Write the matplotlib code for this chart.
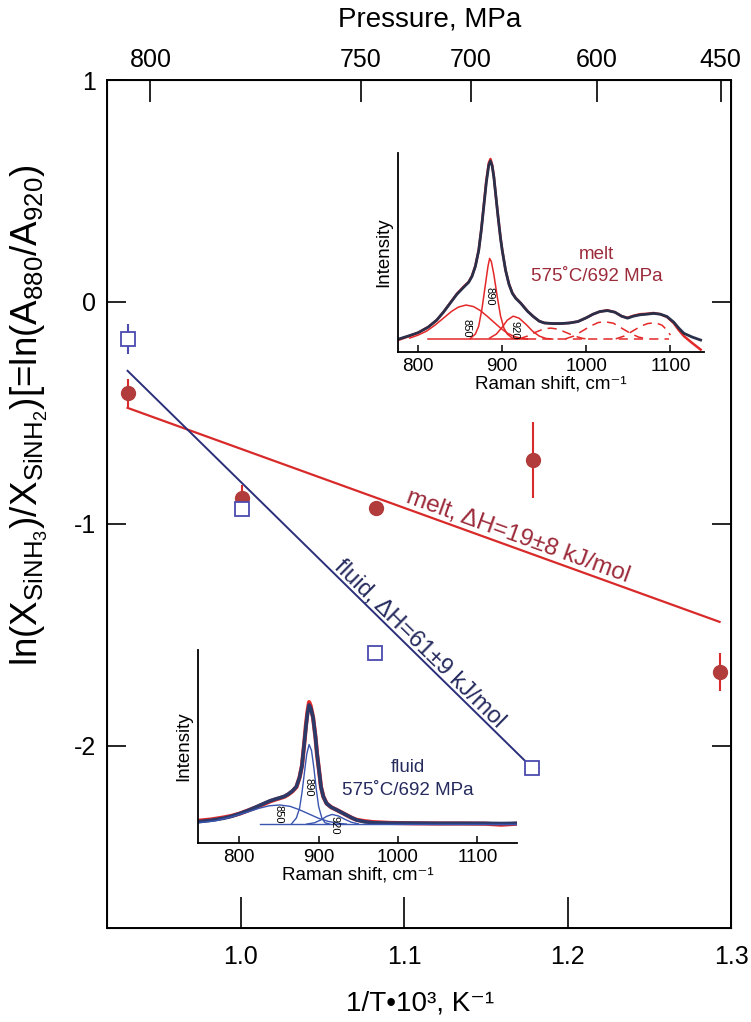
import numpy as np
import matplotlib.pyplot as plt

plt.rcParams['font.family'] = ['Liberation Sans', 'DejaVu Sans']
plt.rcParams['mathtext.fontset'] = 'custom'
plt.rcParams['mathtext.rm'] = 'Liberation Sans'
plt.rcParams['mathtext.it'] = 'Liberation Sans:italic'
plt.rcParams['mathtext.default'] = 'regular'

# main panel: ln ratio vs 1/T
melt_x = [0.9306, 1.0007, 1.0825, 1.179, 1.293]
melt_y = [-0.41, -0.883, -0.928, -0.712, -1.667]
melt_err = [0.065, 0.06, 0.0, 0.17, 0.085]
fluid_x = [0.9306, 1.0007, 1.082, 1.178]
fluid_y = [-0.167, -0.932, -1.58, -2.10]
fluid_err = [0.068, 0.0, 0.0, 0.0]
melt_fit_x = [0.9306, 1.293]
melt_fit_y = [-0.477, -1.441]
fluid_fit_x = [0.9306, 1.1746]
fluid_fit_y = [-0.31, -2.072]

x_ticks = [1.0, 1.1, 1.2, 1.3]
x_ticklabels = ['1.0', '1.1', '1.2', '1.3']
y_ticks = [1, 0, -1, -2]
y_ticklabels = ['1', '0', '-1', '-2']
p_ticks = [0.9446, 1.0733, 1.1408, 1.2178, 1.2936]
p_ticklabels = ['800', '750', '700', '600', '450']

# melt inset spectrum (Raman shift, relative intensity)
mt_wn = [776, 788, 800, 812, 822, 830, 838, 846, 854, 860, 864, 868, 872, 875, 878,
         881, 884, 886, 888, 890, 892, 895, 898, 900, 904, 908, 912, 916, 922, 930,
         937, 944, 950, 960, 970, 980, 990, 1000, 1008, 1016, 1025, 1034, 1042, 1049,
         1056, 1064, 1072, 1080, 1088, 1096, 1104, 1110, 1116, 1126, 1136]
mt_fit = [0.064, 0.08, 0.097, 0.125, 0.16, 0.2, 0.245, 0.29, 0.325, 0.35, 0.38, 0.43,
          0.51, 0.61, 0.73, 0.85, 0.94, 0.96, 0.935, 0.88, 0.80, 0.68, 0.57, 0.51, 0.41,
          0.34, 0.295, 0.27, 0.245, 0.205, 0.178, 0.155, 0.146, 0.143, 0.143, 0.146,
          0.153, 0.172, 0.19, 0.203, 0.208, 0.2, 0.18, 0.17, 0.18, 0.187, 0.19, 0.194,
          0.19, 0.178, 0.15, 0.12, 0.094, 0.075, 0.06]
mt_meas = [0.06, 0.078, 0.097, 0.126, 0.16, 0.2, 0.246, 0.292, 0.328, 0.352, 0.382, 0.432,
           0.512, 0.612, 0.735, 0.86, 0.95, 0.97, 0.94, 0.882, 0.80, 0.682, 0.572, 0.512,
           0.41, 0.342, 0.297, 0.272, 0.246, 0.206, 0.178, 0.155, 0.146, 0.143, 0.143,
           0.146, 0.153, 0.172, 0.19, 0.203, 0.21, 0.2, 0.18, 0.172, 0.182, 0.19, 0.192,
           0.196, 0.19, 0.176, 0.145, 0.11, 0.08, 0.045, 0.012]
m850_wn = [790, 800, 810, 820, 830, 840, 848, 857, 866, 874, 882, 890, 898, 906, 914, 922, 930]
m850_i = [0.07, 0.085, 0.105, 0.135, 0.17, 0.205, 0.226, 0.236, 0.228, 0.208, 0.18, 0.15,
          0.12, 0.095, 0.078, 0.069, 0.065]
m890_wn = [862, 868, 872, 876, 880, 883, 885, 887, 890, 894, 898, 902, 906, 912, 918]
m890_i = [0.068, 0.09, 0.13, 0.22, 0.34, 0.43, 0.47, 0.455, 0.39, 0.28, 0.18, 0.12, 0.09,
          0.07, 0.065]
m920_wn = [885, 893, 900, 906, 913, 920, 928, 936, 944, 952, 960]
m920_i = [0.07, 0.09, 0.125, 0.16, 0.18, 0.17, 0.14, 0.105, 0.08, 0.068, 0.065]
m960_wn = [920, 930, 940, 950, 958, 966, 976, 986, 996, 1004]
m960_i = [0.066, 0.08, 0.1, 0.117, 0.12, 0.115, 0.098, 0.08, 0.068, 0.065]
m1025_wn = [975, 985, 995, 1005, 1014, 1022, 1032, 1042, 1052, 1062, 1072]
m1025_i = [0.066, 0.08, 0.105, 0.13, 0.148, 0.152, 0.145, 0.12, 0.095, 0.075, 0.066]
m1080_wn = [1035, 1045, 1055, 1065, 1073, 1082, 1090, 1096, 1100]
m1080_i = [0.066, 0.08, 0.105, 0.13, 0.143, 0.147, 0.135, 0.11, 0.085]
m_base_wn = [812, 930, 1098]
m_base_i = [0.065, 0.065, 0.065]

# fluid inset spectrum
ft_wn = [748, 765, 780, 790, 801, 812, 822, 830, 839, 846, 851, 857, 862, 867, 872, 876,
         879, 882, 884, 886, 888, 890, 893, 896, 898, 901, 903, 906, 910, 916, 923, 929,
         935, 942, 948, 958, 969, 990, 1020, 1050, 1080, 1110, 1130, 1150]
ft_fit = [0.11, 0.118, 0.128, 0.138, 0.153, 0.17, 0.188, 0.203, 0.219, 0.228, 0.234,
          0.242, 0.254, 0.27, 0.292, 0.34, 0.40, 0.52, 0.60, 0.67, 0.715, 0.70, 0.65,
          0.55, 0.465, 0.36, 0.29, 0.24, 0.205, 0.185, 0.171, 0.158, 0.145, 0.13, 0.119,
          0.11, 0.105, 0.103, 0.103, 0.102, 0.102, 0.102, 0.101, 0.102]
ft_meas = [0.115, 0.122, 0.132, 0.14, 0.153, 0.17, 0.186, 0.2, 0.216, 0.226, 0.232,
           0.24, 0.252, 0.268, 0.29, 0.34, 0.40, 0.52, 0.61, 0.68, 0.73, 0.71, 0.65,
           0.55, 0.46, 0.36, 0.29, 0.24, 0.205, 0.185, 0.171, 0.158, 0.145, 0.13, 0.12,
           0.113, 0.108, 0.104, 0.102, 0.101, 0.101, 0.1, 0.095, 0.1]
f850_wn = [748, 770, 790, 810, 825, 838, 851, 864, 876, 888, 900, 912, 925, 935]
f850_i = [0.105, 0.115, 0.135, 0.16, 0.18, 0.193, 0.197, 0.19, 0.172, 0.15, 0.128,
          0.112, 0.102, 0.098]
f890_wn = [866, 872, 876, 879, 882, 885, 888, 891, 894, 897, 900, 904, 908, 914]
f890_i = [0.1, 0.13, 0.18, 0.26, 0.36, 0.46, 0.51, 0.48, 0.39, 0.28, 0.19, 0.13, 0.105, 0.098]
f920_wn = [885, 895, 903, 910, 917, 925, 933, 941, 950]
f920_i = [0.098, 0.105, 0.12, 0.138, 0.148, 0.14, 0.123, 0.108, 0.099]
f_base_wn = [826, 1151]
f_base_i = [0.098, 0.098]

raman_ticks = [800, 900, 1000, 1100]

c_melt = '#b23b3b'
c_melt_line = '#d82a2a'
c_melt_text = '#9c2a3a'
c_fluid = '#4b4bb0'
c_fluid_line = '#2b2f7a'
c_fluid_text = '#262b5e'
c_red = '#e42828'

fig = plt.figure(figsize=(7.51, 10.22), dpi=100)
ax = fig.add_axes([107/751, 1-928/1022, 624/751, 848/1022])

ax.plot(melt_fit_x, melt_fit_y, color=c_melt_line, lw=1.6, zorder=2)
ax.plot(fluid_fit_x, fluid_fit_y, color=c_fluid_line, lw=1.4, zorder=2)
ax.errorbar(melt_x, melt_y, yerr=melt_err, fmt='o', color=c_melt, ecolor=c_melt_line,
            elinewidth=1.5, capsize=0, markersize=10, zorder=3)
ax.errorbar(fluid_x, fluid_y, yerr=fluid_err, fmt='s', color=c_fluid, mfc='white',
            mec=c_fluid, mew=1.3, ecolor=c_fluid, elinewidth=1.5, capsize=0,
            markersize=10, zorder=4)

ax.set_xlim(0.918, 1.3)
ax.set_ylim(-2.82, 1.0)
ax.set_xticks(x_ticks)
ax.set_xticklabels(x_ticklabels, fontsize=18)
ax.set_yticks(y_ticks)
ax.set_yticklabels(y_ticklabels, fontsize=18)
ax.tick_params(axis='x', direction='in', length=22, width=1.2, pad=12)
ax.tick_params(axis='y', direction='in', length=14, width=1.2, pad=8, right=True)
for s in ax.spines.values():
    s.set_linewidth(1.4)

ax2 = ax.twiny()
ax2.set_xlim(ax.get_xlim())
ax2.set_xticks(p_ticks)
ax2.set_xticklabels(p_ticklabels, fontsize=18)
ax2.tick_params(axis='x', direction='in', length=16, width=1.2, pad=6)

fig.text(430/751, 1-20/1022, 'Pressure, MPa', fontsize=20, ha='center', va='center')
fig.text(420/751, 1-1003/1022, '1/T\u202210\u00b3, K\u207b\u00b9', fontsize=20,
         ha='center', va='center')
fig.text(29/751, 1-415/1022,
         'ln(X$_{SiNH_3}$)/X$_{SiNH_2}$)[=ln(A$_{880}$/A$_{920}$)',
         fontsize=26.5, rotation=90, ha='center', va='center')

# slanted labels along the fits
fig.canvas.draw()
def line_angle(xs, ys):
    p0 = ax.transData.transform((xs[0], ys[0]))
    p1 = ax.transData.transform((xs[1], ys[1]))
    return np.degrees(np.arctan2(p1[1]-p0[1], p1[0]-p0[0]))

ax.text(1.1697, -1.055, 'melt, \u0394H=19\u00b18 kJ/mol', color=c_melt_text, fontsize=17.5,
        rotation=line_angle(melt_fit_x, melt_fit_y), rotation_mode='anchor',
        ha='center', va='center')
ax.text(1.1093, -1.54, 'fluid, \u0394H=61\u00b19 kJ/mol', color=c_fluid_text, fontsize=17,
        rotation=line_angle(fluid_fit_x, fluid_fit_y), rotation_mode='anchor',
        ha='center', va='center')

# melt inset
axm = fig.add_axes([398/751, 1-352/1022, 306/751, 199/1022])
axm.patch.set_alpha(0)
axm.plot(mt_wn, mt_meas, color=c_red, lw=1.8)
axm.plot(mt_wn, mt_fit, color='#2a2f4a', lw=2.0)
axm.plot(m850_wn, m850_i, color=c_red, lw=1.1)
axm.plot(m890_wn, m890_i, color=c_red, lw=1.1)
axm.plot(m920_wn, m920_i, color=c_red, lw=1.1)
for wn, it in [(m960_wn, m960_i), (m1025_wn, m1025_i), (m1080_wn, m1080_i)]:
    axm.plot(wn, it, color=c_red, lw=1.1, dashes=(6, 4))
axm.plot(m_base_wn[:2], m_base_i[:2], color=c_red, lw=1.1)
axm.plot(m_base_wn[1:], m_base_i[1:], color=c_red, lw=1.1, dashes=(6, 4))
axm.set_xlim(776, 1140)
axm.set_ylim(0, 1)
axm.text(857, 0.12, '850', fontsize=8, rotation=270, ha='center', va='center')
axm.text(885, 0.28, '890', fontsize=8, rotation=270, ha='center', va='center')
axm.text(914, 0.11, '920', fontsize=8, rotation=270, ha='center', va='center')
axm.text(1012, 0.49, 'melt', color=c_melt_text, fontsize=13.5, ha='center', va='center')
axm.text(1012, 0.38, '575\u02daC/692 MPa', color=c_melt_text, fontsize=13.5,
         ha='center', va='center')

# fluid inset
axf = fig.add_axes([198/751, 1-843/1022, 319/751, 193/1022])
axf.patch.set_alpha(0)
axf.plot(ft_wn, ft_meas, color=c_red, lw=3.0)
axf.plot(ft_wn, ft_fit, color='#2c3a6a', lw=2.6)
axf.plot(f850_wn, f850_i, color='#3a55b0', lw=1.0)
axf.plot(f890_wn, f890_i, color='#3a55b0', lw=1.0)
axf.plot(f920_wn, f920_i, color='#3a55b0', lw=1.0)
axf.plot(f_base_wn, f_base_i, color='#3a55b0', lw=1.0)
axf.set_xlim(748, 1150)
axf.set_ylim(0, 1)
axf.text(850, 0.15, '850', fontsize=8, rotation=270, ha='center', va='center')
axf.text(887, 0.29, '890', fontsize=8, rotation=270, ha='center', va='center')
axf.text(920, 0.09, '920', fontsize=8, rotation=270, ha='center', va='center')
axf.text(1012, 0.39, 'fluid', color=c_fluid_text, fontsize=13.5, ha='center', va='center')
axf.text(1012, 0.27, '575\u02daC/692 MPa', color=c_fluid_text, fontsize=13.5,
         ha='center', va='center')

for a in (axm, axf):
    a.spines['top'].set_visible(False)
    a.spines['right'].set_visible(False)
    a.spines['left'].set_linewidth(1.3)
    a.spines['bottom'].set_linewidth(1.3)
    a.set_xticks(raman_ticks)
    a.set_xticklabels([str(t) for t in raman_ticks], fontsize=13.5)
    a.set_yticks([])
    a.tick_params(axis='x', direction='in', length=5, width=1.1, pad=4)
    a.set_xlabel('Raman shift, cm\u207b\u00b9', fontsize=13.5, labelpad=1)
    a.set_ylabel('Intensity', fontsize=13.5, labelpad=4)

fig.savefig('out.png', dpi=100)
